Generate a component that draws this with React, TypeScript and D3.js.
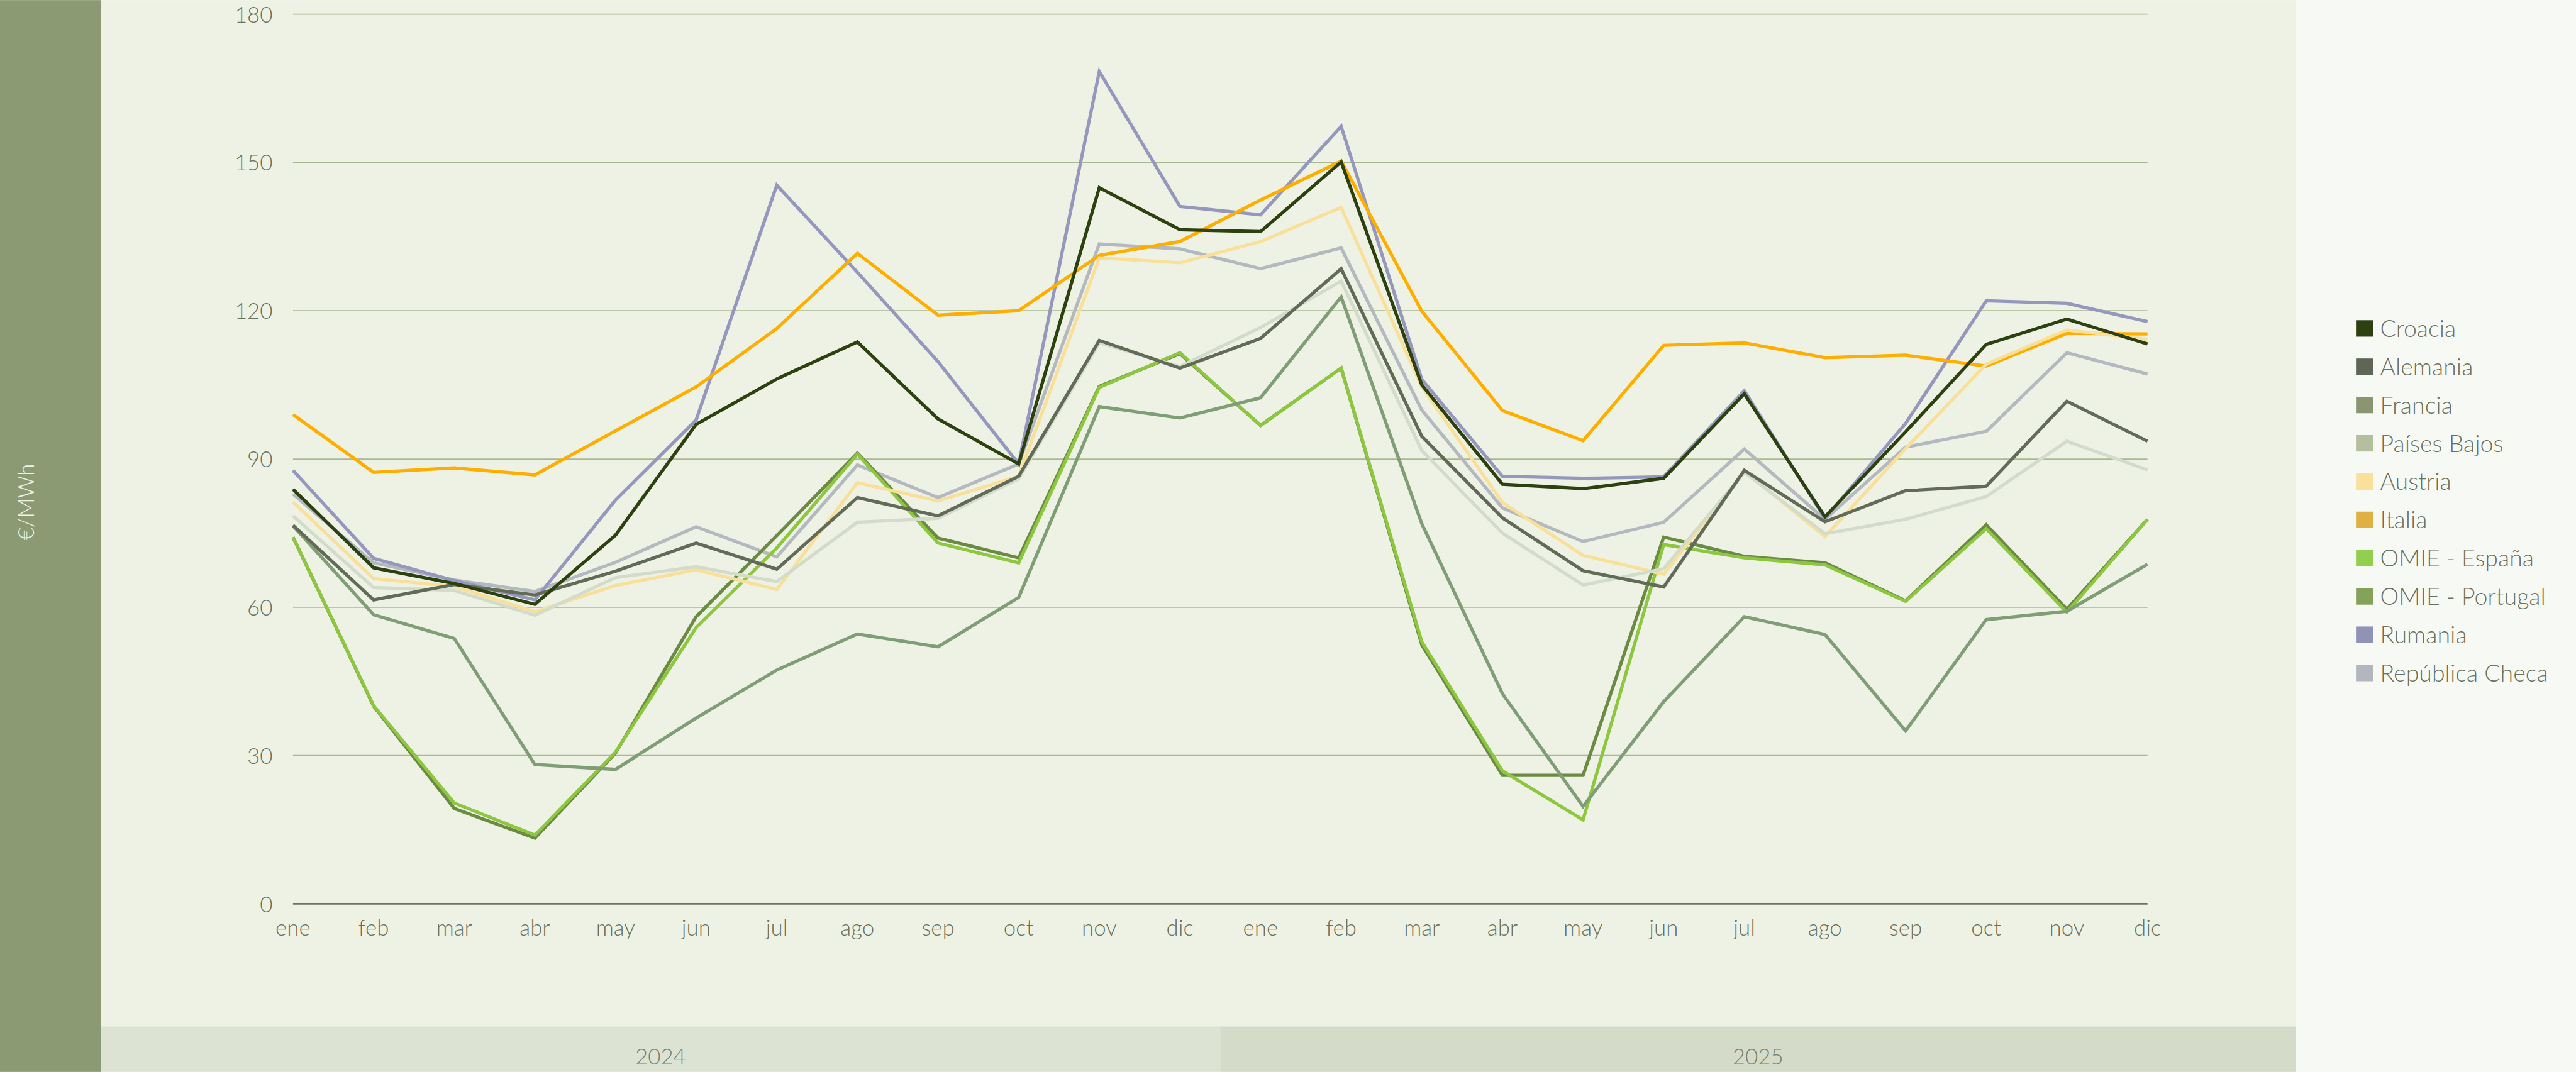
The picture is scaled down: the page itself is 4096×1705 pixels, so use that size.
import React, { useEffect, useRef } from 'react';
import * as d3 from 'd3';

// month labels repeat once per year
const months: string[] = ["ene", "feb", "mar", "abr", "may", "jun", "jul", "ago", "sep", "oct", "nov", "dic"];
const years: string[] = ["2024", "2025"];
const yTicks: number[] = [0, 30, 60, 90, 120, 150, 180];

// €/MWh, ene 2024 .. dic 2025
const croacia: number[] = [83.9, 68.0, 64.8, 60.6, 74.6, 97.0, 106.2, 113.7, 98.1, 89.0, 144.9, 136.4, 136.0, 150.1, 105.0, 84.9, 84.0, 86.1, 103.2, 78.3, 95.5, 113.2, 118.3, 113.3];
const alemania: number[] = [76.6, 61.5, 64.6, 62.5, 67.3, 73.0, 67.7, 82.2, 78.5, 86.5, 114.0, 108.4, 114.4, 128.5, 94.6, 78.1, 67.4, 64.1, 87.7, 77.3, 83.6, 84.5, 101.7, 93.6];
const francia: number[] = [76.5, 58.5, 53.7, 28.2, 27.2, 37.6, 47.3, 54.6, 52.0, 62.0, 100.6, 98.3, 102.4, 122.8, 76.9, 42.5, 19.7, 40.9, 58.1, 54.5, 35.0, 57.5, 59.2, 68.7];
const paisesBajos: number[] = [78.5, 64.0, 63.4, 58.4, 66.0, 68.2, 65.2, 77.2, 78.0, 86.0, 113.5, 108.7, 116.6, 126.0, 91.7, 75.0, 64.5, 67.8, 87.3, 74.9, 77.8, 82.4, 93.6, 87.8];
const austria: number[] = [81.3, 65.8, 64.2, 59.1, 64.4, 67.6, 63.6, 85.2, 81.5, 86.5, 130.7, 129.7, 134.0, 140.9, 104.6, 81.2, 70.5, 66.7, 87.5, 74.3, 92.1, 109.2, 116.1, 114.2];
const italia: number[] = [99.0, 87.3, 88.2, 86.8, 95.7, 104.6, 116.4, 131.6, 119.1, 120.0, 131.2, 134.0, 142.4, 150.3, 119.9, 99.8, 93.7, 113.0, 113.5, 110.5, 111.0, 108.8, 115.4, 115.3];
const omieEspana: number[] = [74.2, 40.1, 20.4, 13.9, 30.7, 55.9, 72.0, 91.0, 73.0, 69.0, 104.5, 111.5, 96.8, 108.4, 53.0, 26.9, 17.0, 72.7, 70.0, 68.6, 61.2, 75.9, 59.0, 77.8];
const omiePortugal: number[] = [74.2, 40.0, 19.3, 13.3, 30.5, 58.1, 74.5, 91.2, 74.0, 70.0, 104.7, 111.3, 96.8, 108.4, 52.4, 26.0, 26.0, 74.2, 70.3, 69.0, 61.3, 76.7, 59.6, 77.8];
const rumania: number[] = [87.7, 69.9, 65.4, 61.5, 81.7, 97.9, 145.4, 127.8, 109.7, 89.0, 168.4, 141.1, 139.4, 157.3, 106.1, 86.5, 86.1, 86.4, 103.8, 78.0, 97.2, 122.0, 121.5, 117.8];
const republicaCheca: number[] = [82.9, 69.0, 65.5, 63.2, 69.1, 76.3, 70.2, 88.8, 82.2, 89.0, 133.5, 132.5, 128.5, 132.7, 99.9, 80.1, 73.3, 77.2, 92.0, 77.8, 92.4, 95.6, 111.5, 107.2];

const seriesNames: string[] = ["Croacia", "Alemania", "Francia", "Países Bajos", "Austria", "Italia", "OMIE - España", "OMIE - Portugal", "Rumania", "República Checa"];
const seriesValues: number[][] = [croacia, alemania, francia, paisesBajos, austria, italia, omieEspana, omiePortugal, rumania, republicaCheca];

const lineColors: string[] = ["#2c4010", "#626b58", "#7f9e76", "#d3dccb", "#f9e09a", "#ffae00", "#8dc63f", "#6b8a43", "#9598bc", "#b3b9bf"];
const legendColors: string[] = ["#2c4010", "#5f6655", "#8b9670", "#b3bf9e", "#fbe09b", "#e0b142", "#92cf4e", "#84a35a", "#9093b5", "#b1b7bc"];

const App: React.FC = () => {
    const svgRef = useRef<SVGSVGElement | null>(null);

    useEffect(() => {
        const el = svgRef.current;
        if (!el) return;
        const svg = d3.select(el);
        svg.selectAll("*").remove();

        // layout in reference pixels, scaled down by the viewBox
        const W = 4695;
        const H = 1954;
        const sideW = 184;
        const plotRight = 4184;
        const bandTop = 1871;
        const font = "Lato, 'Open Sans', sans-serif";
        const textColor = "#6b7260";

        const categories = years.flatMap(() => months);

        const x = d3.scaleLinear().domain([0, categories.length - 1]).range([534, 3914]);
        const y = d3.scaleLinear().domain([0, 180]).range([1647.6, 25.7]);

        // backgrounds
        svg.append("rect").attr("width", W).attr("height", H).attr("fill", "#f7f9f4");
        svg.append("rect").attr("x", sideW).attr("width", plotRight - sideW).attr("height", bandTop).attr("fill", "#eef2e4");
        svg.append("rect").attr("width", sideW).attr("height", H).attr("fill", "#8b9a73");

        // year bands
        const yearMid = (x(11) + x(12)) / 2;
        const bands = [
            { label: years[0], x0: sideW, x1: yearMid, fill: "#dce3d2" },
            { label: years[1], x0: yearMid, x1: plotRight, fill: "#d4dbc8" },
        ];
        bands.forEach((b) => {
            svg.append("rect").attr("x", b.x0).attr("y", bandTop).attr("width", b.x1 - b.x0).attr("height", H - bandTop).attr("fill", b.fill);
            svg.append("text")
                .attr("x", (b.x0 + b.x1) / 2).attr("y", 1940)
                .attr("text-anchor", "middle")
                .attr("font-family", font).attr("font-weight", 300).attr("font-size", 40)
                .attr("fill", "#7a8070")
                .text(b.label);
        });

        // y title
        svg.append("text")
            .attr("transform", "translate(62, 915) rotate(-90)")
            .attr("text-anchor", "middle")
            .attr("font-family", font).attr("font-weight", 300).attr("font-size", 40)
            .attr("fill", "#eef2e4")
            .text("€/MWh");

        // grid + y ticks
        const grid = svg.append("g");
        yTicks.forEach((t) => {
            grid.append("line")
                .attr("x1", x(0)).attr("x2", x(categories.length - 1))
                .attr("y1", y(t)).attr("y2", y(t))
                .attr("stroke", t === 0 ? "#6b7260" : "#a8b891")
                .attr("stroke-width", t === 0 ? 2.5 : 2);
            grid.append("text")
                .attr("x", 497).attr("y", y(t) + 15)
                .attr("text-anchor", "end")
                .attr("font-family", font).attr("font-weight", 300).attr("font-size", 40)
                .attr("fill", textColor)
                .text(t);
        });

        // x labels
        svg.append("g")
            .selectAll("text")
            .data(categories)
            .enter()
            .append("text")
            .attr("x", (_, i) => x(i))
            .attr("y", 1705)
            .attr("text-anchor", "middle")
            .attr("font-family", font).attr("font-weight", 300).attr("font-size", 40)
            .attr("fill", textColor)
            .text((d) => d);

        // lines, first series on top
        const line = d3.line<number>().x((_, i) => x(i)).y((d) => y(d));
        const order = seriesValues.map((_, i) => i).reverse();
        svg.append("g")
            .selectAll("path")
            .data(order)
            .enter()
            .append("path")
            .attr("d", (i) => line(seriesValues[i]))
            .attr("fill", "none")
            .attr("stroke", (i) => lineColors[i])
            .attr("stroke-width", 6)
            .attr("stroke-linejoin", "miter");

        // legend
        const legend = svg.append("g").attr("transform", "translate(4294, 583.6)");
        seriesNames.forEach((name, i) => {
            const row = legend.append("g").attr("transform", `translate(0, ${i * 69.8})`);
            row.append("rect").attr("width", 31).attr("height", 30).attr("fill", legendColors[i]);
            row.append("text")
                .attr("x", 44).attr("y", 30.5)
                .attr("font-family", font).attr("font-weight", 300).attr("font-size", 43)
                .attr("fill", textColor)
                .text(name);
        });
    }, []);

    return (
        <svg
            ref={svgRef}
            width={4096}
            height={1705}
            viewBox="0 0 4695 1954"
            style={{ position: 'absolute', left: 0, top: 0, display: 'block' }}
        />
    );
};

export default App;
